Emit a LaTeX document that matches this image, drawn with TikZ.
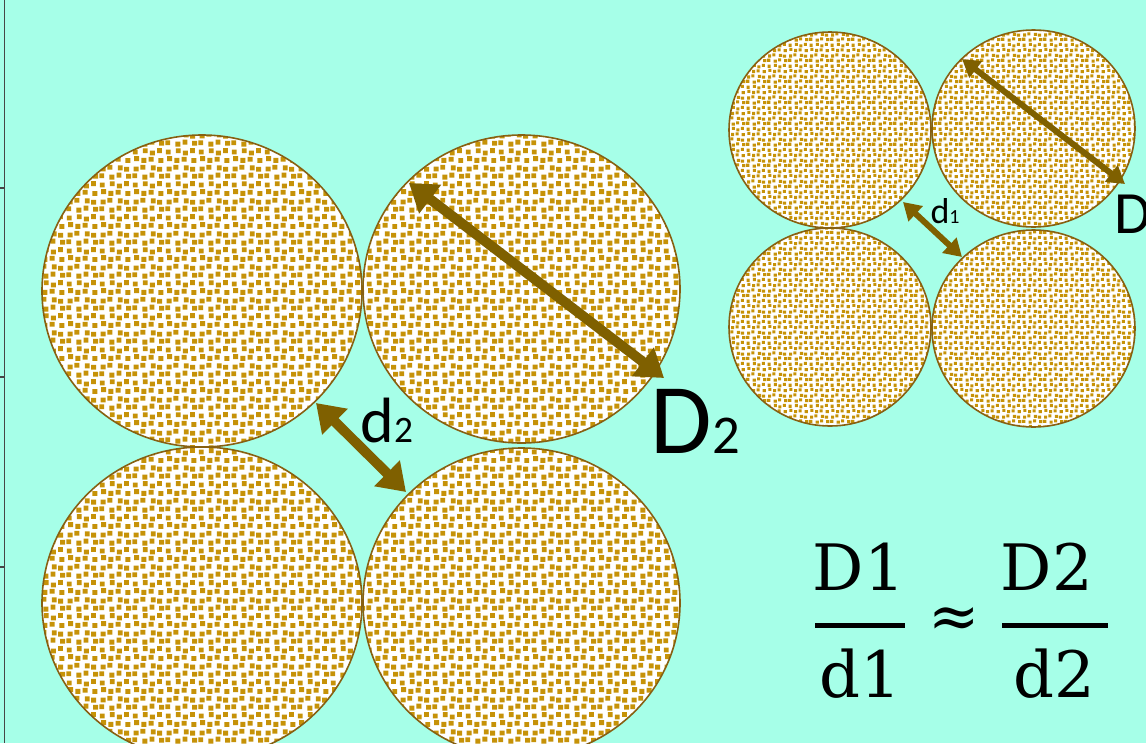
\documentclass[tikz,border=0pt]{standalone}
\usepackage{fontspec}
\newfontfamily\labelfont{Carlito}
\newfontfamily\eqfont{DejaVu Serif}
\usetikzlibrary{arrows.meta,patterns}

\definecolor{seafoam}{RGB}{166,255,232}
\definecolor{grainfill}{RGB}{198,146,8}
\definecolor{grainedge}{RGB}{135,96,18}
\definecolor{arrowbrown}{RGB}{127,96,0}
\definecolor{axisgray}{RGB}{70,70,70}

% speckled grain fill, #2 = unit of the tile
\newcommand\grainpattern[2]{%
  \pgfdeclarepatternformonly{#1}{\pgfpointorigin}{\pgfpoint{20*#2}{20*#2}}{\pgfpoint{20*#2}{20*#2}}{%
    \foreach \gx/\gy in {0.2/1.1,6.4/0.3,10.7/1.5,16.6/0.8,
                         1.0/5.2,5.1/6.3,11.5/5.9,15.4/5.1,
                         1.3/11.6,5.8/10.5,10.2/11.2,16.1/10.4,
                         0.5/15.6,6.6/16.4,10.9/15.0,15.3/16.5}{%
      \pgfpathrectangle{\pgfpoint{\gx*#2}{\gy*#2}}{\pgfpoint{3*#2}{3*#2}}%
      \pgfusepath{fill}%
    }%
  }}
\grainpattern{grainsbig}{1.25pt}
\grainpattern{grainssmall}{0.8pt}

\tikzset{every picture/.style={line width=0.75pt}}
\tikzset{
  grain/.style={draw=grainedge, line width=1.2pt, preaction={fill=white}, pattern=#1, pattern color=grainfill},
  bigarrow/.style={arrowbrown, line width=7.5pt, {Triangle[length=20pt,width=26pt]}-{Triangle[length=20pt,width=26pt]}},
  smallarrow/.style={arrowbrown, line width=4.5pt, {Triangle[length=13pt,width=15pt]}-{Triangle[length=13pt,width=15pt]}},
  label/.style={inner sep=0pt, anchor=base west, font=\labelfont},
  eqtext/.style={inner sep=0pt, font=\eqfont\fontsize{48}{48}\selectfont}
}

\begin{document}
\begin{tikzpicture}[x=0.75pt,y=0.75pt,yscale=-1,xscale=1]
\useasboundingbox (0,0) rectangle (1146,743);
\fill[seafoam] (0,0) rectangle (1146,743);
\clip (0,0) rectangle (1146,743);

%Shape: Axis line
\draw[axisgray, line width=1.1pt] (4.5,0) -- (4.5,743);
\foreach \ty in {188,377,567}
  \draw[axisgray, line width=1pt] (0,\ty) -- (4.5,\ty);

%Shape: Circle, big grains
\draw[grain=grainsbig] (202,291) ellipse [x radius=160, y radius=156];
\draw[grain=grainsbig] (521.5,289) ellipse [x radius=158.5, y radius=154];
\draw[grain=grainsbig] (202,603) ellipse [x radius=160, y radius=156];
\draw[grain=grainsbig] (521.5,603) ellipse [x radius=158.5, y radius=155];

%Shape: Circle, small grains
\draw[grain=grainssmall] (830,130) ellipse [x radius=101, y radius=98];
\draw[grain=grainssmall] (1033.5,128.5) ellipse [x radius=101.5, y radius=98.5];
\draw[grain=grainssmall] (830,327) ellipse [x radius=101, y radius=99];
\draw[grain=grainssmall] (1033.5,328.5) ellipse [x radius=101.5, y radius=98.5];

%Arrows
\coordinate (d2a) at (316,403);
\coordinate (d2b) at (406,492);
\coordinate (D2a) at (409,183);
\coordinate (D2b) at (664,378);
\coordinate (d1a) at (903,202);
\coordinate (d1b) at (962,257);
\coordinate (D1a) at (962,59);
\coordinate (D1b) at (1125,184);
\draw[bigarrow] (d2a) -- (d2b);
\draw[bigarrow] (D2a) -- (D2b);
\draw[smallarrow] (d1a) -- (d1b);
\draw[smallarrow] (D1a) -- (D1b);

% Text Node
\node[label] (d2lbl) at (360,442) {\fontsize{48}{48}\selectfont d\fontsize{28}{28}\selectfont 2};
% Text Node
\node[label] (D2lbl) at (650,453) {\fontsize{75}{75}\selectfont D\fontsize{41}{41}\selectfont 2};
% Text Node
\node[label] (d1lbl) at (930,223) {\fontsize{27}{27}\selectfont d\fontsize{15}{15}\selectfont 1};
% Text Node
\node[label] (D1lbl) at (1114,233) {\fontsize{45}{45}\selectfont D};

% Text Node: ratio
\node[eqtext, anchor=base] (num1) at (859,590) {D1};
\node[eqtext, anchor=base] (den1) at (860,697) {d1};
\node[eqtext, font=\eqfont\fontsize{46}{46}\selectfont] (approx) at (954,623) {≈};
\node[eqtext, anchor=base] (num2) at (1047,590) {D2};
\node[eqtext, anchor=base] (den2) at (1054,697) {d2};
\draw[line width=3.75pt] (815,625.5) -- (905,625.5);
\draw[line width=3.75pt] (1002,625.5) -- (1108,625.5);

\end{tikzpicture}
\end{document}
